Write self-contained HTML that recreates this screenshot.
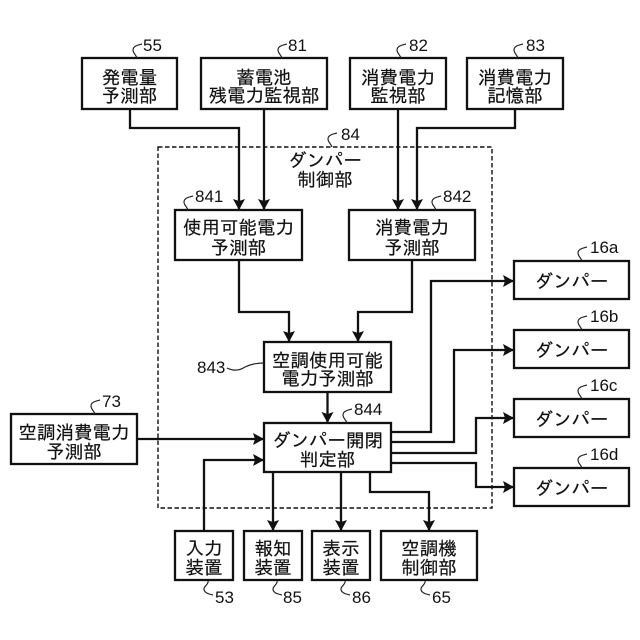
<!DOCTYPE html>
<html><head><meta charset="utf-8"><style>
html,body{margin:0;padding:0;background:#fff}
svg{display:block}
.t{font-family:"Liberation Sans","IPAGothic","Noto Sans CJK JP",sans-serif;font-size:18.5px;text-anchor:middle;fill:#111;stroke:#111;stroke-width:.2}
.n{font-family:"Liberation Sans",sans-serif;font-size:17px;fill:#111}
.b{fill:#fff;stroke:#111;stroke-width:2.3}
.c{fill:none;stroke:#111;stroke-width:2.3}
.s{fill:none;stroke:#222;stroke-width:1.2}
</style></head><body>
<svg width="640" height="640" viewBox="0 0 640 640" xmlns="http://www.w3.org/2000/svg">
<defs>
<marker id="a" markerUnits="userSpaceOnUse" markerWidth="14" markerHeight="14" refX="11" refY="7" orient="auto"><path d="M0 1 L11 7 L0 13 L2 7 Z" fill="#111"/></marker>
</defs>
<rect x="158" y="147" width="334" height="361" fill="none" stroke="#111" stroke-width="1.4" stroke-dasharray="4.500 2.500"/>
<g class="c">
<path d="M130 109V128H239V210" marker-end="url(#a)"/>
<path d="M264 109V210" marker-end="url(#a)"/>
<path d="M398 109V210" marker-end="url(#a)"/>
<path d="M515 109V128H417V210" marker-end="url(#a)"/>
<path d="M239 260V312H289V342" marker-end="url(#a)"/>
<path d="M412 260V312H358V342" marker-end="url(#a)"/>
<path d="M327.500 392V423" marker-end="url(#a)"/>
<path d="M391 432H431V281H514" marker-end="url(#a)"/>
<path d="M391 442H454V350H514" marker-end="url(#a)"/>
<path d="M391 453H476V418H514" marker-end="url(#a)"/>
<path d="M391 463H476V487H514" marker-end="url(#a)"/>
<path d="M137 439H264" marker-end="url(#a)"/>
<path d="M204 531V460H264" marker-end="url(#a)"/>
<path d="M273 472V531" marker-end="url(#a)"/>
<path d="M341 472V531" marker-end="url(#a)"/>
<path d="M370 472V492H429V531" marker-end="url(#a)"/>
</g>
<g class="b">
<rect x="82" y="58" width="95" height="51"/>
<rect x="201" y="58" width="126" height="51"/>
<rect x="350" y="58" width="96" height="51"/>
<rect x="467" y="58" width="96" height="51"/>
<rect x="175" y="210" width="127" height="50"/>
<rect x="349" y="210" width="126" height="50"/>
<rect x="264" y="342" width="127" height="50"/>
<rect x="264" y="423" width="127" height="49"/>
<rect x="11" y="414" width="126" height="50"/>
<rect x="175" y="531" width="58" height="49"/>
<rect x="244" y="531" width="58" height="49"/>
<rect x="312" y="531" width="58" height="49"/>
<rect x="381" y="531" width="96" height="49"/>
<rect x="514" y="261" width="115" height="38"/>
<rect x="514" y="330" width="115" height="38"/>
<rect x="514" y="399" width="115" height="38"/>
<rect x="514" y="468" width="115" height="38"/>
</g>
<g class="t">
<text x="129.500" y="84">発電量</text><text x="129.500" y="102">予測部</text>
<text x="264" y="84">蓄電池</text><text x="264" y="102">残電力監視部</text>
<text x="398" y="84">消費電力</text><text x="398" y="102">監視部</text>
<text x="515" y="84">消費電力</text><text x="515" y="102">記憶部</text>
<text x="325" y="167">ダンパー</text><text x="325" y="186">制御部</text>
<text x="238.500" y="234">使用可能電力</text><text x="238.500" y="254">予測部</text>
<text x="412" y="234">消費電力</text><text x="412" y="254">予測部</text>
<text x="327.500" y="367">空調使用可能</text><text x="327.500" y="385">電力予測部</text>
<text x="327.500" y="447">ダンパー開閉</text><text x="327.500" y="466">判定部</text>
<text x="74" y="439">空調消費電力</text><text x="74" y="458">予測部</text>
<text x="204" y="555">入力</text><text x="204" y="574">装置</text>
<text x="273" y="555">報知</text><text x="273" y="574">装置</text>
<text x="341" y="555">表示</text><text x="341" y="574">装置</text>
<text x="429" y="555">空調機</text><text x="429" y="574">制御部</text>
<text x="571.500" y="288">ダンパー</text>
<text x="571.500" y="357">ダンパー</text>
<text x="571.500" y="426">ダンパー</text>
<text x="571.500" y="495">ダンパー</text>
</g>
<g class="n">
<text x="143" y="51">55</text><text x="288" y="51">81</text><text x="409" y="51">82</text><text x="526" y="51">83</text>
<text x="341" y="140">84</text><text x="195" y="202">841</text><text x="443" y="202">842</text>
<text x="590" y="253">16a</text><text x="590" y="322">16b</text><text x="590" y="391">16c</text><text x="590" y="460">16d</text>
<text x="102" y="407">73</text><text x="354" y="415">844</text><text x="197" y="373">843</text>
<text x="215" y="603">53</text><text x="283" y="603">85</text><text x="352" y="603">86</text><text x="432" y="603">65</text>
</g>
<g class="s">
<path d="M137 58c-1-3-4-5-4-8c0-4 5-5 9-6"/>
<path d="M282 58c-1-3-4-5-4-8c0-4 5-5 9-6"/>
<path d="M401 58c-1-3-4-5-4-8c0-4 5-5 9-6"/>
<path d="M518 58c-1-3-4-5-4-8c0-4 5-5 9-6"/>
<path d="M332 147c-1-3-4-5-4-8c0-4 5-5 9-6"/>
<path d="M188 210c-1-3-4-5-4-8c0-4 5-5 9-6"/>
<path d="M436 210c-1-3-4-5-4-8c0-4 5-5 9-6"/>
<path d="M582 261c-1-3-4-5-4-8c0-4 5-5 9-6"/>
<path d="M582 330c-1-3-4-5-4-8c0-4 5-5 9-6"/>
<path d="M582 399c-1-3-4-5-4-8c0-4 5-5 9-6"/>
<path d="M582 468c-1-3-4-5-4-8c0-4 5-5 9-6"/>
<path d="M95 414c-1-3-4-5-4-8c0-4 5-5 9-6"/>
<path d="M347 423c-1-3-4-5-4-8c0-4 5-5 9-6"/>
<path d="M227 368c6 3 12 3 18-1c6-3 12-4 19-4"/>
<path d="M208 581c1 3-4 5-4 8c0 4 5 5 9 6"/>
<path d="M277 581c1 3-4 5-4 8c0 4 5 5 9 6"/>
<path d="M345 581c1 3-4 5-4 8c0 4 5 5 9 6"/>
<path d="M425 581c1 3-4 5-4 8c0 4 5 5 9 6"/>
</g>
</svg>
</body></html>
